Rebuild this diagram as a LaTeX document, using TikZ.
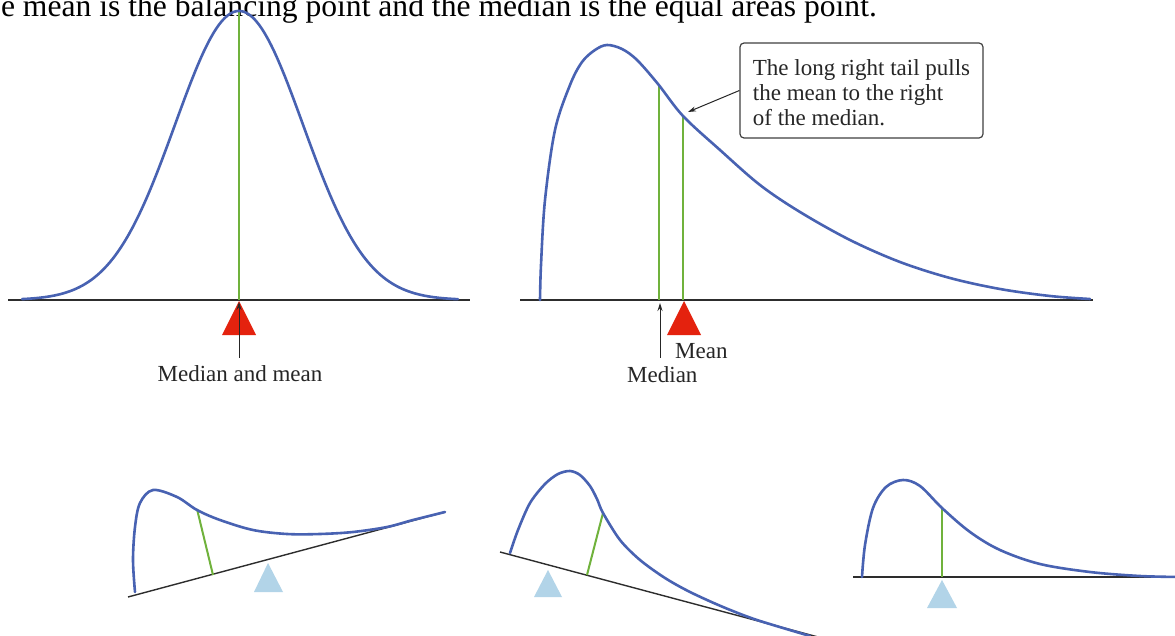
\documentclass[tikz,border=0pt]{standalone}
\usepackage{fontspec}
\setmainfont{Liberation Serif}
\usetikzlibrary{arrows.meta}
\definecolor{curveblue}{RGB}{72,98,178}
\definecolor{medgreen}{RGB}{112,178,60}
\definecolor{fulcred}{RGB}{228,34,14}
\definecolor{fulcblue}{RGB}{178,212,232}
\definecolor{axisgray}{RGB}{45,45,45}
\begin{document}
\begin{tikzpicture}[x=1pt,y=-1pt,
  curve/.style={curveblue, line width=2.6pt, line join=round, line cap=round},
  medline/.style={medgreen, line width=2pt},
  axis/.style={axisgray, line width=1.4pt},
  lab/.style={font=\fontsize{23}{25}\selectfont, inner sep=0pt, text=black!85},
  ptr/.style={black!85, line width=1pt, -{Stealth[length=8pt,width=5pt]}}]
\useasboundingbox (0,0) rectangle (1175,636);
\fill[white] (0,0) rectangle (1175,636);
\clip (0,0) rectangle (1175,636);

% title (cut at the top, as in the reference)
\node[anchor=base east, inner sep=0pt, font=\fontsize{31.6}{34}\selectfont] (title) at (877,17)
  {e mean is the balancing point and the median is the equal areas point.};

% ---- top left: symmetric
\draw[axis] (8,300) -- (470,300);
\draw[medline] (239,300) -- (239,12);
\draw[curve] plot[domain=22:458, samples=160, smooth] (\x,{300-289*exp(-((\x-239)/64)^2/2)});
\fill[fulcred] (239,301) -- (256,335) -- (222,335) -- cycle;
\node[lab, anchor=base] (mm) at (240,381) {Median and mean};
\coordinate (apexL) at (239,302);
\draw[ptr] (apexL |- mm.north) ++(0,-7) -- (apexL);

% ---- top right: right skewed
\draw[axis] (520,300) -- (1093,300);
\draw[medline] (659,300) -- (659,84);
\draw[medline] (683,300) -- (683,116);
\draw[curve] plot[smooth, tension=0.55] coordinates {
  (540,300) (541,265) (545,200) (555,130) (570,85) (582,62) (595,50) (607,45)
  (622,49) (637,60) (658,84) (683,116) (720,150) (760,185) (800,212) (850,240)
  (900,262) (950,278) (1000,289) (1050,296) (1090,299)};
\fill[fulcred] (684,301) -- (701,335) -- (667,335) -- cycle;
\node[lab, anchor=base west] (meanlab) at (675,358) {Mean};
\node[lab, anchor=base west] (medlab) at (627,382) {Median};
\coordinate (medtip) at (660,303);
\draw[ptr] (medtip |- medlab.north) ++(0,-8) -- (medtip);

% callout
\node[draw=black!75, line width=1.2pt, rounded corners=4pt, minimum width=243pt,
  minimum height=95pt, align=left, inner xsep=8pt,
  font=\fontsize{23}{25}\selectfont, text=black!85] (call) at (861.5,90.5)
  {\rule{0pt}{20pt}The long right tail pulls\\the mean to the right\\of the median.};
\coordinate (tailtip) at (688,112);
\draw[ptr] (call.west) -- (tailtip);

% ---- bottom 1: tilted up to the right
\draw[axis] (128,597) -- (445,512);
\draw[medline] (197,509) -- (213,575);
\draw[curve] plot[smooth, tension=0.55] coordinates {
  (135,592) (133,560) (135,527) (140,503) (153,490) (177,497) (197,510)
  (220,520) (253,530) (287,534) (320,534) (353,532) (387,527) (413,520) (445,512)};
\fill[fulcblue] (268,563) -- (283,592) -- (254,592) -- cycle;

% ---- bottom 2: tilted down to the right
\draw[axis] (500,552) -- (818,637);
\draw[medline] (603,513) -- (587,575);
\draw[curve] plot[smooth, tension=0.5] coordinates {
  (510,553) (518,530) (530,503) (545,484) (558,474) (570,471) (580,475)
  (590,486) (597,499) (603,513) (620,540) (640,560) (665,578) (690,592)
  (723,607) (757,620) (810,636)};
\fill[fulcblue] (548,570) -- (562,597) -- (534,597) -- cycle;

% ---- bottom 3: level
\draw[axis] (853,577) -- (1175,577);
\draw[medline] (942,508) -- (942,577);
\draw[curve] plot[smooth, tension=0.55] coordinates {
  (862,577) (865,545) (873,508) (886,487) (903,480) (920,486) (942,508)
  (970,532) (1000,550) (1040,564) (1090,572) (1140,576) (1180,577)};
\fill[fulcblue] (942,580) -- (957,608) -- (927,608) -- cycle;
\end{tikzpicture}
\end{document}
